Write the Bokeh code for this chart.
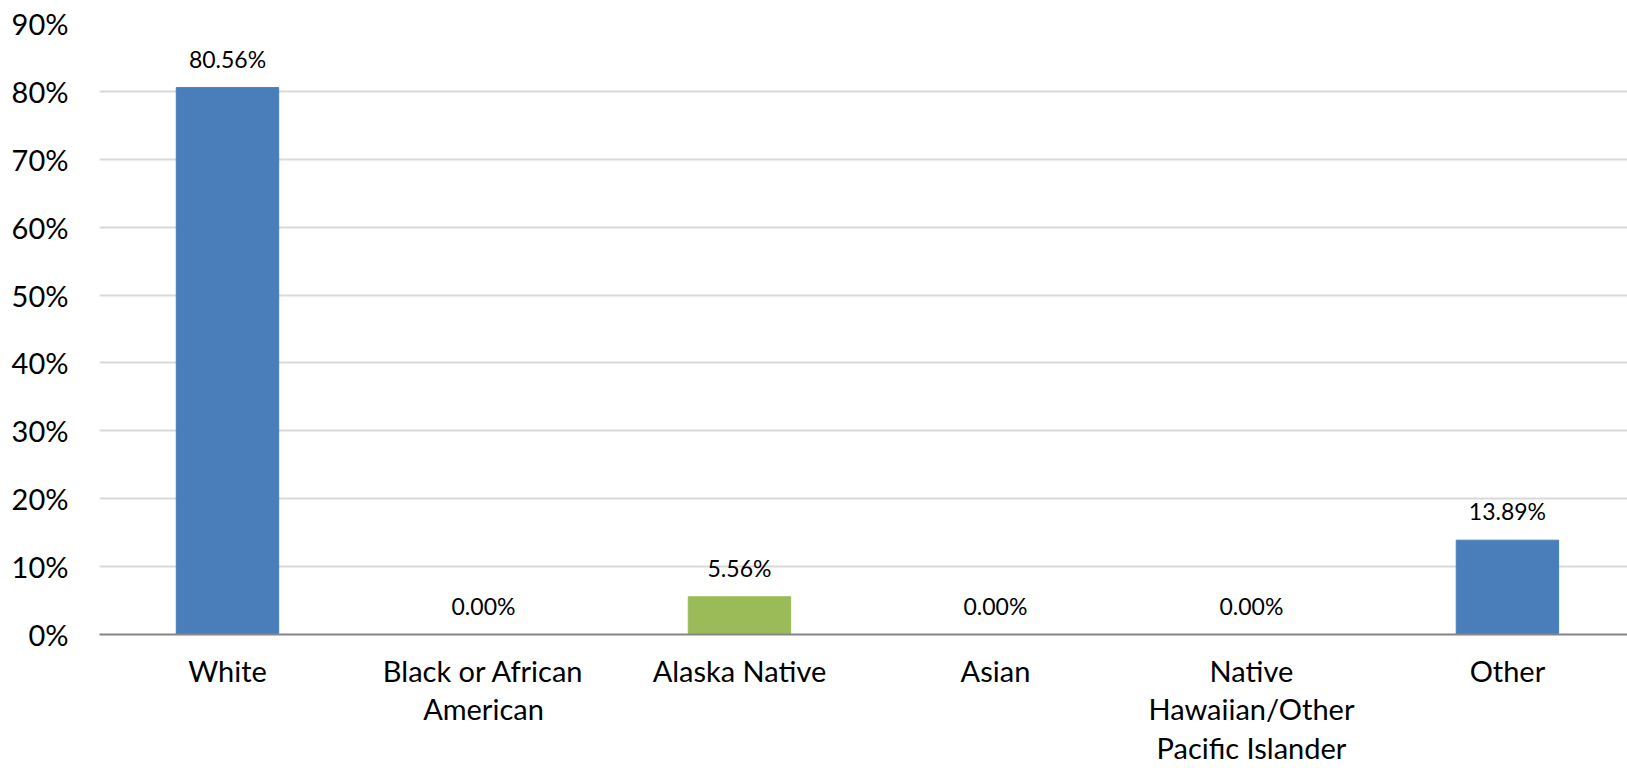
from bokeh.plotting import figure
from bokeh.models import ColumnDataSource, Range1d, FixedTicker, PrintfTickFormatter, LabelSet
from bokeh.core.properties import value
from bokeh.embed import file_html
from bokeh.resources import INLINE

categories = ["White", "Black or African\nAmerican", "Alaska Native", "Asian",
              "Native\nHawaiian/Other\nPacific Islander", "Other"]
values = [80.56, 0.00, 5.56, 0.00, 0.00, 13.89]
bar_colors = ["#4A7EBB", "#4A7EBB", "#9BBB59", "#4A7EBB", "#4A7EBB", "#4A7EBB"]
y_ticks = [0, 10, 20, 30, 40, 50, 60, 70, 80, 90]

FONT = "Lato"
idx = list(range(len(categories)))
src = ColumnDataSource(dict(
    x=idx, top=values, color=bar_colors,
    label=[f"{v:.2f}%" for v in values],
))

p = figure(width=1627, height=768, output_backend="svg", toolbar_location=None,
           x_range=Range1d(-0.5, 5.469), y_range=Range1d(0, 90),
           min_border_left=99, min_border_right=0, min_border_top=23, min_border_bottom=134)
p.outline_line_color = None
p.background_fill_color = "white"
p.border_fill_color = "white"

p.vbar(x="x", top="top", width=0.4, color="color", source=src)

labels = LabelSet(x="x", y="top", text="label", source=src, text_align="center",
                  text_baseline="middle", y_offset=29, text_font=value(FONT),
                  text_font_size="23px", text_color="#000000")
p.add_layout(labels)

# y axis
p.yaxis.ticker = FixedTicker(ticks=y_ticks)
p.yaxis.formatter = PrintfTickFormatter(format="%d%%")
p.yaxis.axis_line_color = None
p.yaxis.major_tick_line_color = None
p.yaxis.minor_tick_line_color = None
p.yaxis.major_tick_out = 0
p.yaxis.major_tick_in = 0
p.yaxis.major_label_standoff = 31
p.yaxis.major_label_text_font = FONT
p.yaxis.major_label_text_font_size = "29px"
p.yaxis.major_label_text_color = "#000000"

# x axis
p.xaxis.ticker = FixedTicker(ticks=idx)
p.xaxis.major_label_overrides = {i: c for i, c in zip(idx, categories)}
p.xaxis.axis_line_color = "#868686"
p.xaxis.axis_line_width = 2
p.xaxis.major_tick_line_color = None
p.xaxis.minor_tick_line_color = None
p.xaxis.major_tick_out = 0
p.xaxis.major_tick_in = 0
p.xaxis.major_label_standoff = 18
p.xaxis.major_label_text_font = FONT
p.xaxis.major_label_text_font_size = "29px"
p.xaxis.major_label_text_color = "#000000"
p.xaxis.major_label_text_line_height = 1.1

p.xgrid.grid_line_color = None
p.ygrid.grid_line_color = "#D9D9D9"
p.ygrid.grid_line_width = 2

open("out.html", "w").write(file_html(p, INLINE))
